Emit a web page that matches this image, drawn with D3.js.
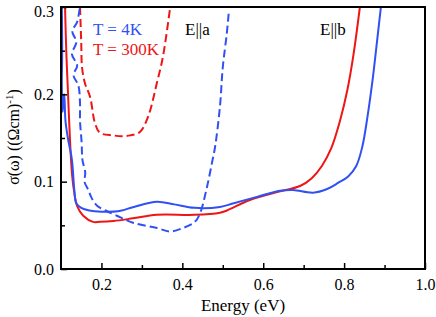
<!DOCTYPE html>
<html>
<head>
<meta charset="utf-8">
<script src="https://cdn.jsdelivr.net/npm/d3@7"></script>
<style>
  body { margin: 0; background: #fff; }
  svg text { font-family: "Liberation Serif", "DejaVu Serif", serif; }
</style>
</head>
<body>
<svg id="chart" width="436" height="317" font-family="Liberation Serif, DejaVu Serif, serif"></svg>
<script>
// [energy (eV), sigma ((Ohm cm)^-1)]
const solid4K = [
  [0.102, 0.3], [0.103, 0.25], [0.102, 0.21], [0.104, 0.18], [0.106, 0.195],
  [0.108, 0.2], [0.111, 0.17], [0.117, 0.15], [0.127, 0.125], [0.133, 0.09],
  [0.138, 0.075], [0.15, 0.07], [0.17, 0.067], [0.2, 0.0656], [0.24, 0.066],
  [0.28, 0.071], [0.337, 0.077], [0.38, 0.074], [0.43, 0.07], [0.493, 0.071],
  [0.525, 0.075], [0.58, 0.082], [0.642, 0.0897], [0.674, 0.0905], [0.723, 0.0874],
  [0.758, 0.0916], [0.785, 0.0985], [0.81, 0.106], [0.83, 0.118], [0.845, 0.14],
  [0.858, 0.175], [0.87, 0.215], [0.88, 0.255], [0.891, 0.3]
];
const solid300K = [
  [0.11, 0.3], [0.113, 0.25], [0.117, 0.205], [0.122, 0.15], [0.127, 0.11],
  [0.132, 0.09], [0.14, 0.072], [0.155, 0.061], [0.179, 0.054], [0.196, 0.054],
  [0.23, 0.055], [0.278, 0.058], [0.337, 0.062], [0.43, 0.062], [0.493, 0.0645],
  [0.51, 0.067], [0.567, 0.079], [0.642, 0.089], [0.691, 0.095], [0.72, 0.104],
  [0.745, 0.118], [0.768, 0.138], [0.79, 0.17], [0.808, 0.205], [0.823, 0.245],
  [0.839, 0.3]
];
const dashed4K = [
  [0.146, 0.298], [0.14, 0.283], [0.128, 0.272], [0.138, 0.26], [0.127, 0.246],
  [0.14, 0.233], [0.131, 0.222], [0.143, 0.21], [0.147, 0.19], [0.147, 0.17],
  [0.151, 0.145], [0.153, 0.125], [0.16, 0.11], [0.158, 0.1], [0.168, 0.09],
  [0.175, 0.082], [0.19, 0.072], [0.21, 0.067], [0.238, 0.061], [0.278, 0.053],
  [0.337, 0.047], [0.37, 0.043], [0.402, 0.047], [0.431, 0.054], [0.444, 0.064],
  [0.461, 0.094], [0.473, 0.121], [0.481, 0.14], [0.493, 0.186], [0.5, 0.231],
  [0.51, 0.27], [0.515, 0.295]
];
const dashed300K = [
  [0.147, 0.3], [0.15, 0.26], [0.152, 0.231], [0.159, 0.213], [0.172, 0.197],
  [0.184, 0.167], [0.196, 0.156], [0.229, 0.153], [0.25, 0.152], [0.271, 0.153],
  [0.295, 0.157], [0.315, 0.174], [0.337, 0.213], [0.352, 0.243], [0.37, 0.3]
];
const xTicks = [0.2, 0.4, 0.6, 0.8, 1.0];
const xMinor = [0.3, 0.5, 0.7, 0.9];
const yTicks = [0.0, 0.1, 0.2, 0.3];
const yMinor = [0.05, 0.15, 0.25];

const blue = "#3050f5", red = "#f01515";
const serif = "Liberation Serif, DejaVu Serif, serif";

const svg = d3.select("#chart");
const x = d3.scaleLinear().domain([0.1, 1.0]).range([61, 425]);
const y = d3.scaleLinear().domain([0, 0.3]).range([269, 7]);

const line = d3.line()
  .x(d => x(d[0]))
  .y(d => y(d[1]))
  .curve(d3.curveMonotoneY);
const zigLine = d3.line()
  .x(d => x(d[0]))
  .y(d => y(d[1]))
  .curve(d3.curveCatmullRom.alpha(0.5));

const plot = svg.append("g");
plot.append("clipPath").attr("id", "clip")
  .append("rect").attr("x", 61).attr("y", 7).attr("width", 364).attr("height", 262);

const curves = [
  { data: solid300K, color: red, dash: null },
  { data: dashed300K, color: red, dash: "8,4" },
  { data: dashed4K, color: blue, dash: "8,4" },
  { data: solid4K, color: blue, dash: null }
];
plot.selectAll("path.curve")
  .data(curves)
  .enter().append("path")
  .attr("class", "curve")
  .attr("clip-path", "url(#clip)")
  .attr("fill", "none")
  .attr("stroke", d => d.color)
  .attr("stroke-width", 2)
  .attr("stroke-dasharray", d => d.dash)
  .attr("d", d => zigLine(d.data));

// axes, ticks pointing inward
const xAxis = svg.append("g").attr("transform", "translate(0,269)")
  .call(d3.axisBottom(x).tickValues(xTicks).tickSize(-6).tickFormat(d3.format(".1f")));
svg.append("g").attr("transform", "translate(0,269)")
  .call(d3.axisBottom(x).tickValues(xMinor).tickSize(-4).tickFormat(""));
const yAxis = svg.append("g").attr("transform", "translate(61,0)")
  .call(d3.axisLeft(y).tickValues(yTicks).tickSize(-6).tickFormat(d3.format(".1f")));
svg.append("g").attr("transform", "translate(61,0)")
  .call(d3.axisLeft(y).tickValues(yMinor).tickSize(-4).tickFormat(""));

svg.selectAll(".domain").remove();
svg.selectAll(".tick line").attr("stroke", "#000").attr("stroke-width", 1.5);
svg.selectAll("g").attr("font-family", serif);
xAxis.selectAll(".tick text").attr("font-size", 16).attr("dy", null).attr("y", 21)
  .attr("fill", "#000");
yAxis.selectAll(".tick text").attr("font-size", 16).attr("x", -7).attr("dy", "0.32em")
  .attr("fill", "#000");
yAxis.selectAll(".tick text").filter(d => d === 0.3).attr("dy", "0.6em");

// frame
svg.append("rect").attr("x", 61).attr("y", 7).attr("width", 364).attr("height", 262)
  .attr("fill", "none").attr("stroke", "#000").attr("stroke-width", 2);

// labels
svg.append("text").attr("x", 243).attr("y", 311).attr("text-anchor", "middle")
  .attr("font-family", serif).attr("font-size", 17).text("Energy (eV)");

const yl = svg.append("text").attr("transform", "translate(19,137) rotate(-90)")
  .attr("font-family", serif).attr("text-anchor", "middle").attr("font-size", 16);
yl.append("tspan").text("\u03c3(\u03c9)  ((\u03a9cm)");
yl.append("tspan").attr("dy", -6).attr("font-size", 11).text("-1");
yl.append("tspan").attr("dy", 6).text(")");

const notes = [
  { x: 93, y: 35, fill: blue, label: "T = 4K" },
  { x: 93, y: 55, fill: red, label: "T = 300K" },
  { x: 185, y: 35, fill: "#000", label: "E||a" },
  { x: 320, y: 35, fill: "#000", label: "E||b" }
];
svg.selectAll("text.note")
  .data(notes)
  .enter().append("text")
  .attr("class", "note")
  .attr("x", d => d.x).attr("y", d => d.y)
  .attr("font-family", serif).attr("font-size", 17)
  .attr("fill", d => d.fill)
  .text(d => d.label);
</script>
</body>
</html>
